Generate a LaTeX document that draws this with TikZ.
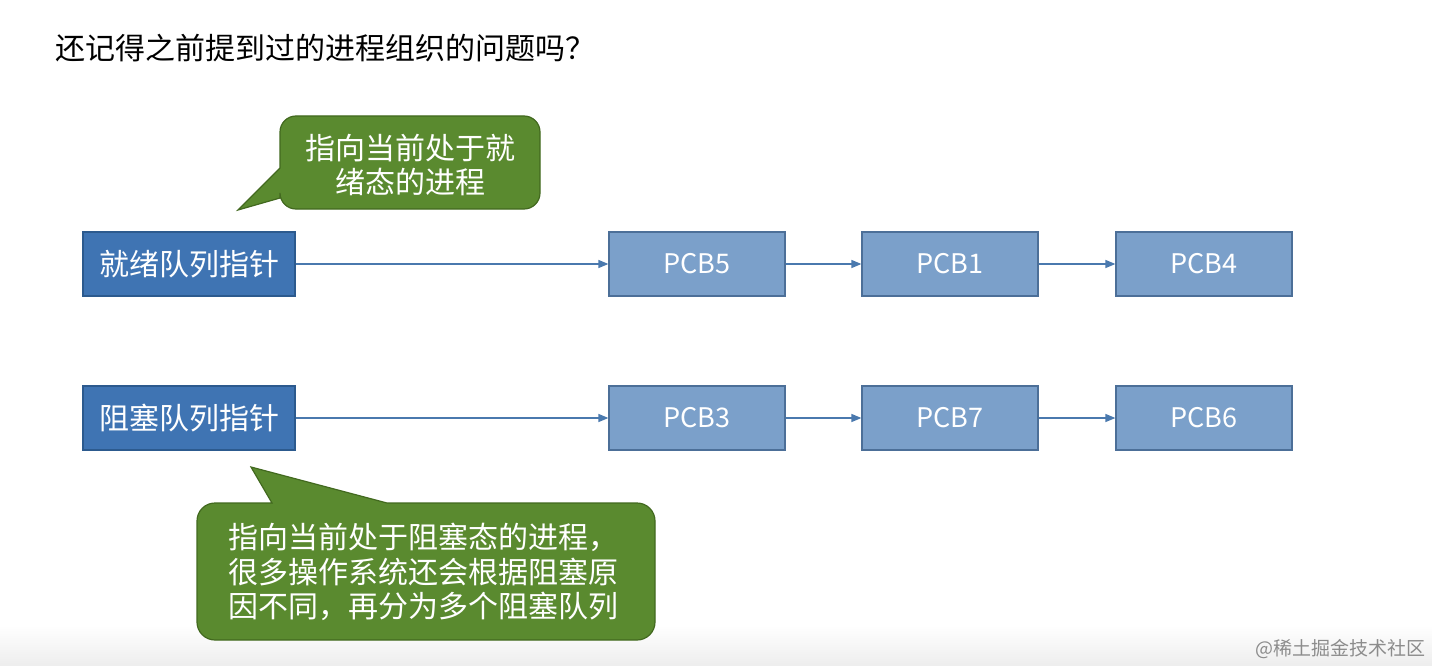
\documentclass[tikz,border=0pt]{standalone}
\usepackage{fontspec}
\setmainfont{Noto Sans CJK SC}
\usetikzlibrary{arrows.meta}
\definecolor{ptrfill}{HTML}{3F74B3}
\definecolor{ptrdraw}{HTML}{2C5A8E}
\definecolor{pcbfill}{HTML}{7BA0CA}
\definecolor{pcbdraw}{HTML}{4C6F98}
\definecolor{arrcol}{HTML}{4A79AE}
\definecolor{greenfill}{HTML}{5A8A2F}
\definecolor{greendraw}{HTML}{42691F}
\tikzset{
  ptrbox/.style={draw=ptrdraw, fill=ptrfill, line width=1.3pt, minimum width=212pt, minimum height=64pt, inner sep=0pt, text=white, font=\fontsize{30}{34}\selectfont},
  pcbbox/.style={draw=pcbdraw, fill=pcbfill, line width=1.2pt, minimum width=176pt, minimum height=64pt, inner sep=0pt, text=white, font=\fontsize{27}{30}\selectfont},
  arr/.style={draw=arrcol, line width=1.3pt, -{Triangle[length=10pt,width=8pt]}},
  callout/.style={fill=greenfill, draw=greendraw, line width=1.2pt},
  callouttext/.style={text=white, font=\fontsize{30}{34.5}\selectfont, inner sep=0pt}
}
\begin{document}
\begin{tikzpicture}[x=1pt,y=-1pt]
\useasboundingbox (0,0) rectangle (1432,666);
\fill[white] (0,0) rectangle (1432,666);
\shade[top color=white, bottom color=black!7] (0,625) rectangle (1432,666);

\node[anchor=west, inner sep=0pt, font=\fontsize{30}{34}\selectfont] (title) at (55,48) {还记得之前提到过的进程组织的问题吗？};

% callout 1
\path[callout, rounded corners=16pt] (410,116) -- (540,116) -- (540,209) -- (280,209) [sharp corners] -- (280,198) -- (238,210) -- (280,168) [rounded corners=16pt] -- (280,116) -- cycle;
\node[callouttext, align=center] (c1) at (410,165) {指向当前处于就\\绪态的进程};

% row 1
\node[ptrbox] (ready) at (189,264) {就绪队列指针};
\node[pcbbox] (pcb5) at (697,264) {PCB5};
\node[pcbbox] (pcb1) at (950,264) {PCB1};
\node[pcbbox] (pcb4) at (1204,264) {PCB4};
\draw[arr] (ready.east) -- (pcb5.west);
\draw[arr] (pcb5.east) -- (pcb1.west);
\draw[arr] (pcb1.east) -- (pcb4.west);

% row 2
\node[ptrbox] (blocked) at (189,418) {阻塞队列指针};
\node[pcbbox] (pcb3) at (697,418) {PCB3};
\node[pcbbox] (pcb7) at (950,418) {PCB7};
\node[pcbbox] (pcb6) at (1204,418) {PCB6};
\draw[arr] (blocked.east) -- (pcb3.west);
\draw[arr] (pcb3.east) -- (pcb7.west);
\draw[arr] (pcb7.east) -- (pcb6.west);

% callout 2
\path[callout, rounded corners=18pt] (197,560) -- (197,503) [sharp corners] -- (272,503) -- (251,467) -- (387,503) [rounded corners=18pt] -- (655,503) -- (655,640) -- (197,640) -- cycle;
\node[callouttext, anchor=west, align=left] (c2) at (228,572) {指向当前处于阻塞态的进程，\\很多操作系统还会根据阻塞原\\因不同，再分为多个阻塞队列};

% watermark
\node[anchor=east, inner sep=0pt, text=black!45, font=\fontsize{19}{22}\selectfont] (wm) at (1426,649) {@稀土掘金技术社区};
\end{tikzpicture}
\end{document}
